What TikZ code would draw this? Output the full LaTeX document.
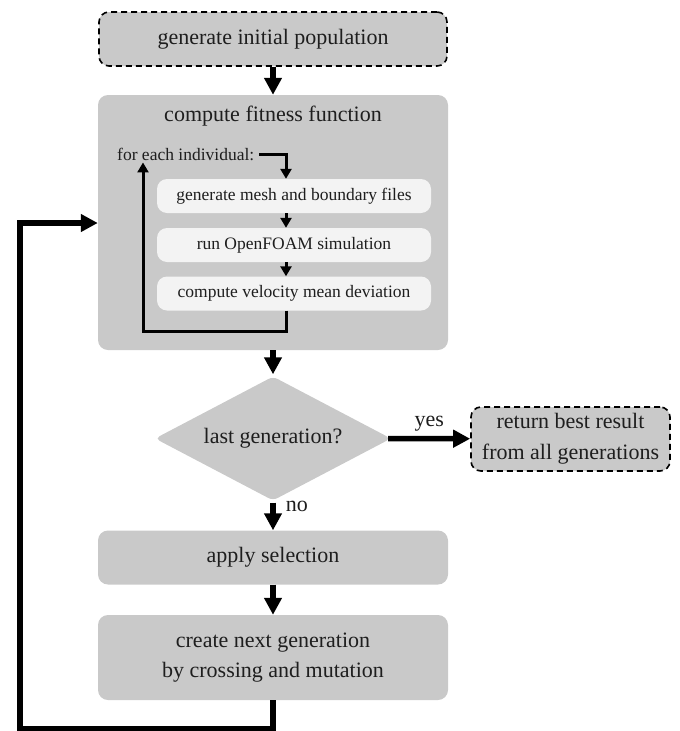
\documentclass[tikz,border=0pt]{standalone}
\usepackage{fontspec}
\setmainfont{Liberation Serif}
\usetikzlibrary{arrows.meta,shapes.geometric}
\definecolor{boxgray}{HTML}{C9C9C9}
\definecolor{subgray}{HTML}{F3F3F3}
\definecolor{txt}{HTML}{1E1E1E}
\tikzset{
  mainbox/.style={fill=boxgray, rounded corners=10pt, minimum width=350pt, inner sep=0pt, text=txt, font=\fontsize{22}{30}\selectfont, align=center},
  dashbox/.style={fill=boxgray, draw=black, line width=1.6pt, dash pattern=on 6pt off 4pt, rounded corners=10pt, inner sep=0pt, text=txt, font=\fontsize{22}{31}\selectfont, align=center},
  subbox/.style={fill=subgray, rounded corners=10pt, minimum width=274pt, minimum height=34pt, inner sep=0pt, text=txt, font=\fontsize{17.5}{21}\selectfont},
  bigarrow/.style={line width=5.5pt, -{Triangle[length=17pt,width=17pt]}},
  thinarrow/.style={line width=3pt, -{Triangle[length=10pt,width=11pt]}},
  lbl/.style={text=txt, font=\fontsize{22}{26}\selectfont, inner sep=0pt},
}
\begin{document}
\begin{tikzpicture}[x=1pt,y=-1pt]
\useasboundingbox (0,0) rectangle (680,731);
% main column
\node[dashbox, minimum width=348pt, minimum height=54pt] (init) at (273,39) {generate initial population};
\node[mainbox, minimum height=255pt] (fit) at (273,222.5) {};
\node[lbl] (fittitle) at (273,116) {compute fitness function};
\node[text=txt, font=\fontsize{17.5}{21}\selectfont, inner sep=2pt, anchor=west] (foreach) at (115,154) {for each individual:};
\node[subbox] (m1) at (294,196) {generate mesh and boundary files};
\node[subbox] (m2) at (294,245) {run OpenFOAM simulation};
\node[subbox] (m3) at (294,293.5) {compute velocity mean deviation};
\node[diamond, aspect=1.9032, fill=boxgray, rounded corners=5pt, minimum width=236pt, minimum height=124pt, inner sep=0pt, text=txt, font=\fontsize{22}{26}\selectfont] (dec) at (273,438.5) {last generation?};
\node[dashbox, minimum width=199pt, minimum height=64pt] (ret) at (570.5,439) {return best result\\from all generations};
\node[mainbox, minimum height=54pt] (sel) at (273,557.5) {apply selection};
\node[mainbox, minimum height=85pt] (next) at (273,657.5) {create next generation\\by crossing and mutation};
% helper coordinates
\coordinate (ax) at (286,0);
\coordinate (lb) at (143,331);
\coordinate (bl) at (20,729);
\coordinate (lft) at (0,223);
% inner connectors
\draw[thinarrow] ([xshift=3pt]foreach.east) -| (m1.north -| ax);
\draw[thinarrow] (m1.south -| ax) -- (m2.north -| ax);
\draw[thinarrow] (m2.south -| ax) -- (m3.north -| ax);
\draw[thinarrow] (m3.south -| ax) |- (lb) -- (lb |- foreach.south);
% main connectors
\draw[bigarrow] (init) -- (fit);
\draw[bigarrow] (fit) -- ([yshift=2pt]dec.north);
\draw[bigarrow] ([yshift=-2pt]dec.south) -- (sel) node[lbl, pos=0.15, right=10pt] {no};
\draw[bigarrow] ([xshift=-3pt]dec.east) -- (ret) node[lbl, midway, above=5pt] {yes};
\draw[bigarrow] (sel) -- (next);
\draw[bigarrow] (next.south) |- (bl) |- (fit.west |- lft);
\end{tikzpicture}
\end{document}
